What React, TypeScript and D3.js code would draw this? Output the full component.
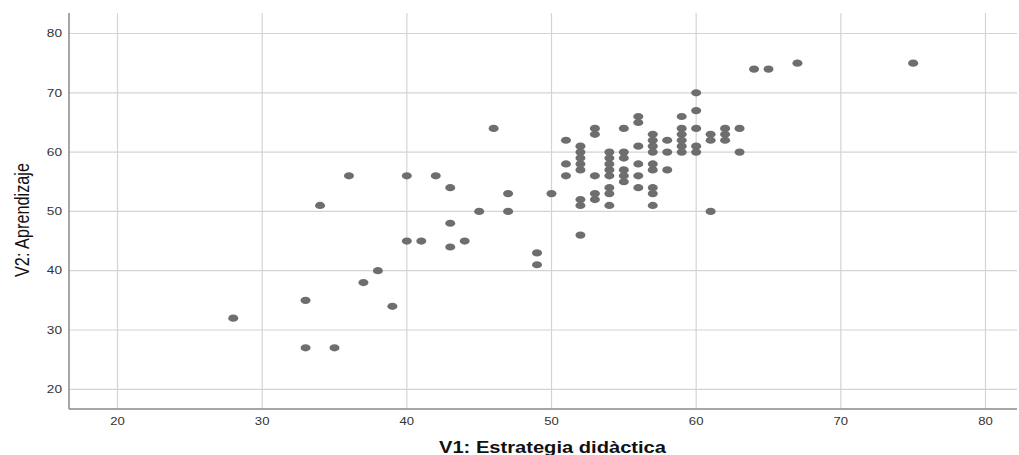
import React from "react";
import * as d3 from "d3";

const xTicks = [20, 30, 40, 50, 60, 70, 80];
const yTicks = [20, 30, 40, 50, 60, 70, 80];

// V1: Estrategia didàctica
const v1 = [
  28, 33, 33, 35, 34, 36, 37, 38, 39, 40, 40, 41, 42, 43, 43, 43, 44, 45, 46, 47, 47, 49, 49, 50,
  51, 51, 51,
  52, 52, 52, 52, 52, 52, 52, 52,
  53, 53, 53, 53, 53,
  54, 54, 54, 54, 54, 54, 54, 54,
  55, 55, 55, 55, 55, 55,
  56, 56, 56, 56, 56, 56,
  57, 57, 57, 57, 57, 57, 57, 57, 57,
  58, 58, 58,
  59, 59, 59, 59, 59, 59,
  60, 60, 60, 60, 60,
  61, 61, 61,
  62, 62, 62,
  63, 63,
  64, 65, 67, 75,
];
// V2: Aprendizaje
const v2 = [
  32, 35, 27, 27, 51, 56, 38, 40, 34, 56, 45, 45, 56, 54, 48, 44, 45, 50, 64, 53, 50, 43, 41, 53,
  62, 58, 56,
  61, 60, 59, 58, 57, 52, 51, 46,
  64, 63, 56, 53, 52,
  60, 59, 58, 57, 56, 54, 53, 51,
  64, 60, 59, 57, 56, 55,
  66, 65, 61, 58, 56, 54,
  63, 62, 61, 60, 58, 57, 54, 53, 51,
  62, 60, 57,
  66, 64, 63, 62, 61, 60,
  70, 67, 64, 61, 60,
  63, 62, 50,
  64, 63, 62,
  64, 60,
  74, 74, 75, 75,
];

const W = 1019;
const H = 455;
const plotLeft = 69;
const plotRight = 1017;
const plotTop = 13;
const plotBottom = 409;

export default function App() {
  const x = d3.scaleLinear().domain([20, 80]).range([117.5, 985.5]);
  const y = d3.scaleLinear().domain([20, 80]).range([389.3, 33.5]);
  const font = "'Liberation Sans', Arial, sans-serif";
  const pts = v1.map((v, i) => ({ x: v, y: v2[i] }));

  return (
    <svg
      width={W}
      height={H}
      style={{ position: "absolute", left: 0, top: 0, background: "#fff" }}
    >
      <rect x={0} y={0} width={W} height={H} fill="#fff" />
      {yTicks.map((t) => (
        <line
          key={"hy" + t}
          x1={plotLeft}
          x2={plotRight}
          y1={y(t)}
          y2={y(t)}
          stroke="#d4d4d4"
          strokeWidth={1.2}
        />
      ))}
      {xTicks.map((t) => (
        <line
          key={"vx" + t}
          x1={x(t)}
          x2={x(t)}
          y1={plotTop}
          y2={plotBottom}
          stroke="#d4d4d4"
          strokeWidth={1.2}
        />
      ))}
      <line x1={plotLeft} x2={plotLeft} y1={plotTop} y2={plotBottom} stroke="#8a8a8a" strokeWidth={1.5} />
      <line x1={plotLeft} x2={plotRight} y1={plotBottom} y2={plotBottom} stroke="#8a8a8a" strokeWidth={1.5} />
      {yTicks.map((t) => (
        <text
          key={"ty" + t}
          transform={`translate(62,${y(t)}) scale(1.3,1)`}
          dy="0.36em"
          textAnchor="end"
          fontFamily={font}
          fontSize={10.5}
          fill="#333"
        >
          {t}
        </text>
      ))}
      {xTicks.map((t) => (
        <text
          key={"tx" + t}
          transform={`translate(${x(t)},424.5) scale(1.25,1)`}
          textAnchor="middle"
          fontFamily={font}
          fontSize={10.5}
          fill="#333"
        >
          {t}
        </text>
      ))}
      {pts.map((p, i) => (
        <ellipse
          key={"p" + i}
          cx={x(p.x)}
          cy={y(p.y)}
          rx={5}
          ry={3.6}
          fill="#6e6e6e"
        />
      ))}
      <text
        x={552.5}
        y={452.5}
        textAnchor="middle"
        fontFamily={font}
        fontSize={16}
        fontWeight="bold"
        fill="#111"
        textLength={227}
        lengthAdjust="spacingAndGlyphs"
      >
        V1: Estrategia didàctica
      </text>
      <text
        transform={`translate(29,220) rotate(-90) scale(1,1.25)`}
        textAnchor="middle"
        fontFamily={font}
        fontSize={16}
        fill="#111"
        textLength={114}
        lengthAdjust="spacingAndGlyphs"
      >
        V2: Aprendizaje
      </text>
    </svg>
  );
}
